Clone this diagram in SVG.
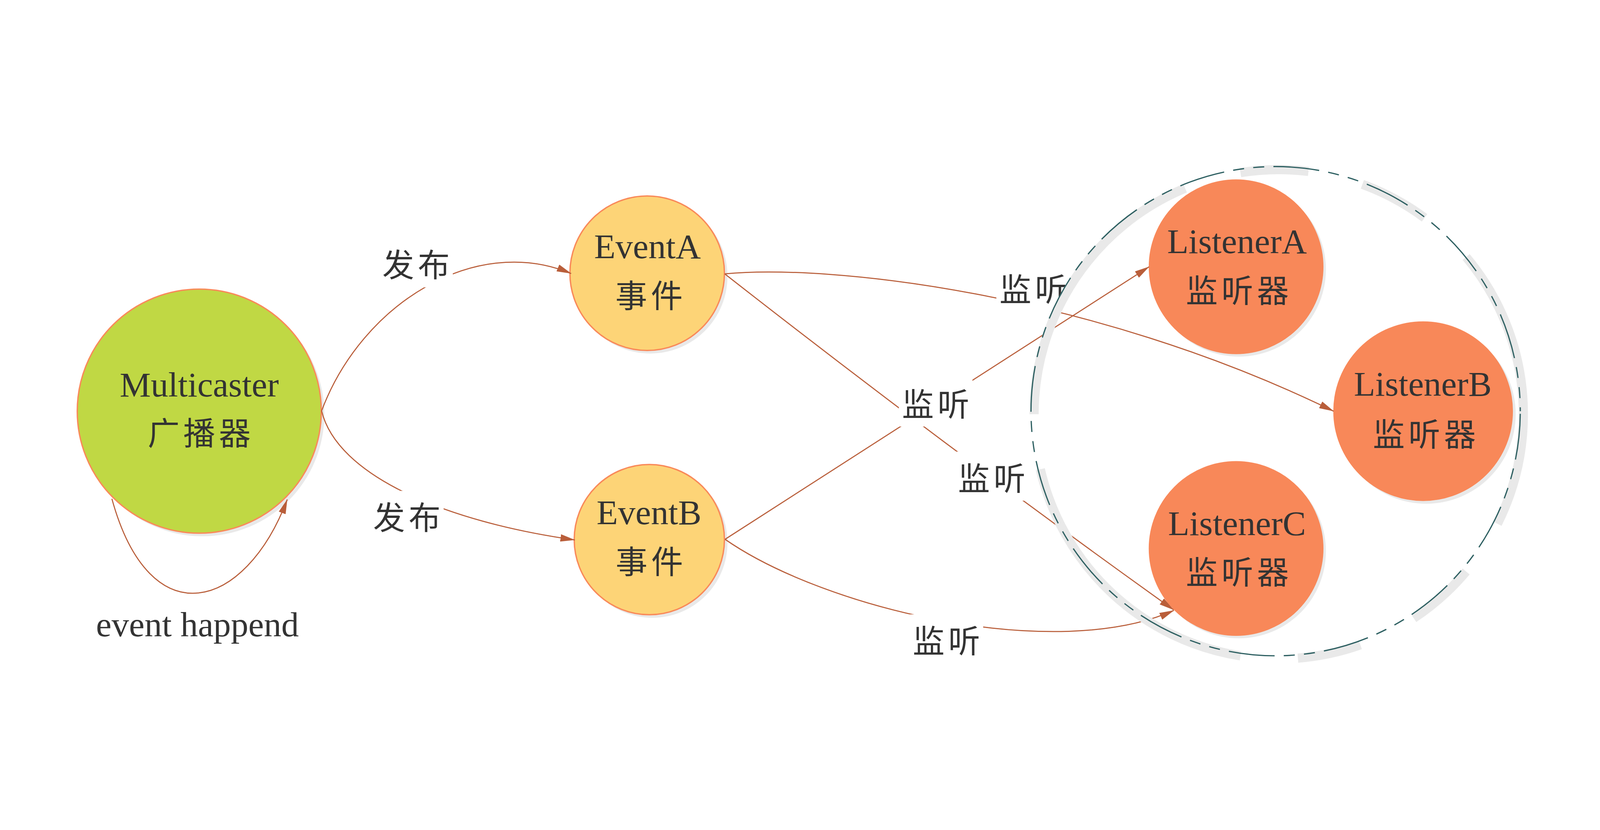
<svg xmlns="http://www.w3.org/2000/svg" width="5219" height="2125" viewBox="0 0 5219 2125" style="width:100vw;height:100vh;display:block">
<defs>
<style>
.shadow{fill:#E9E9E9}
.mc{fill:#C0D844;stroke:#F98A5A;stroke-width:4.5}
.ev{fill:#FDD477;stroke:#F98A5A;stroke-width:4.5}
.ls{fill:#F88859;stroke:#F88859;stroke-width:2}
.conn{fill:none;stroke:#B95E3A;stroke-width:3.5}
.lbl-bg{fill:#FFFFFF}
.en{font-family:"Liberation Serif",serif;font-size:114px;fill:#333333;text-anchor:middle}
.cn{font-family:"Noto Sans CJK SC",sans-serif;font-size:104px;fill:#333333;text-anchor:middle;letter-spacing:12px;dominant-baseline:central}
</style>
<marker id="arrow" viewBox="0 0 48 24" markerUnits="userSpaceOnUse" markerWidth="48" markerHeight="24" refX="47" refY="12" orient="auto">
<path d="M0,0 L48,12 L0,24 Z" fill="#B95E3A"/>
</marker>
</defs>
<rect width="5219" height="2125" fill="#FFFFFF"/>

<g id="node-multicaster">
<circle class="shadow" cx="660" cy="1060" r="398"/>
<circle class="mc" cx="650" cy="1050" r="398"/>
<text class="en" x="650" y="1002">Multicaster</text>
<text class="cn" x="656" y="1115">广播器</text>
</g>

<g id="node-eventA">
<circle class="shadow" cx="2121" cy="610" r="252"/>
<circle class="ev" cx="2111" cy="600" r="252"/>
<text class="en" x="2112" y="551">EventA</text>
<text class="cn" x="2123" y="666">事件</text>
</g>

<g id="node-eventB">
<circle class="shadow" cx="2128" cy="1479" r="245"/>
<circle class="ev" cx="2118" cy="1469" r="245"/>
<text class="en" x="2117" y="1419">EventB</text>
<text class="cn" x="2124" y="1534">事件</text>
</g>

<g id="node-listenerA">
<circle class="shadow" cx="4041" cy="588" r="284"/>
<circle class="ls" cx="4032" cy="579" r="284"/>
<text class="en" x="4035" y="535">ListenerA</text>
<text class="cn" x="4042" y="650">监听器</text>
</g>

<g id="node-listenerB">
<circle class="shadow" cx="4652" cy="1060" r="292"/>
<circle class="ls" cx="4642" cy="1050" r="292"/>
<text class="en" x="4641" y="1000">ListenerB</text>
<text class="cn" x="4652" y="1118">监听器</text>
</g>

<g id="node-listenerC">
<circle class="shadow" cx="4041" cy="1507" r="284"/>
<circle class="ls" cx="4032" cy="1498" r="284"/>
<text class="en" x="4035" y="1454">ListenerC</text>
<text class="cn" x="4042" y="1569">监听器</text>
</g>

<g id="connectors">
<path class="conn" marker-end="url(#arrow)" d="M1049,1049 C1180,700 1550,470 1863,601"/>
<path class="conn" marker-end="url(#arrow)" d="M1049,1049 C1100,1260 1450,1410 1875,1470"/>
<path class="conn" marker-end="url(#arrow)" d="M365,1336 C490,1790 800,1700 937,1338"/>
<path class="conn" marker-end="url(#arrow)" d="M2364,602 C2700,570 3550,660 4350,1050"/>
<path class="conn" marker-end="url(#arrow)" d="M2364,602 Q3084,1166 3828,1698"/>
<path class="conn" marker-end="url(#arrow)" d="M2365,1468 L3748,579"/>
<path class="conn" marker-end="url(#arrow)" d="M2365,1468 C2700,1700 3450,1870 3829,1700"/>
</g>

<g id="labels">
<rect class="lbl-bg" x="1237" y="486" width="240" height="160"/>
<text class="cn" x="1363" y="566">发布</text>
<rect class="lbl-bg" x="1207" y="1310" width="240" height="160"/>
<text class="cn" x="1333" y="1390">发布</text>
<rect class="lbl-bg" x="3250" y="566" width="240" height="160"/>
<text class="cn" x="3376" y="646">监听</text>
<rect class="lbl-bg" x="2932" y="940" width="240" height="160"/>
<text class="cn" x="3058" y="1020">监听</text>
<rect class="lbl-bg" x="3115" y="1182" width="240" height="160"/>
<text class="cn" x="3241" y="1262">监听</text>
<rect class="lbl-bg" x="2967" y="1713" width="240" height="160"/>
<text class="cn" x="3093" y="1793">监听</text>
<text class="en" x="644" y="1784">event happend</text>
</g>

<g id="listener-group">
<circle cx="4171" cy="1060" r="798" fill="none" stroke="#E9E9E9" stroke-width="30" pathLength="360" stroke-dasharray="26.6 13.4 16.5 14 15 13.5 68 13 67.5 13.5 16 13 16.6 13.4 40"/>
<circle cx="4161" cy="1050" r="798" fill="none" stroke="#2E6062" stroke-width="4" stroke-dasharray="150 30 36 30 36 30" stroke-dashoffset="-8.8"/>
</g>
</svg>
